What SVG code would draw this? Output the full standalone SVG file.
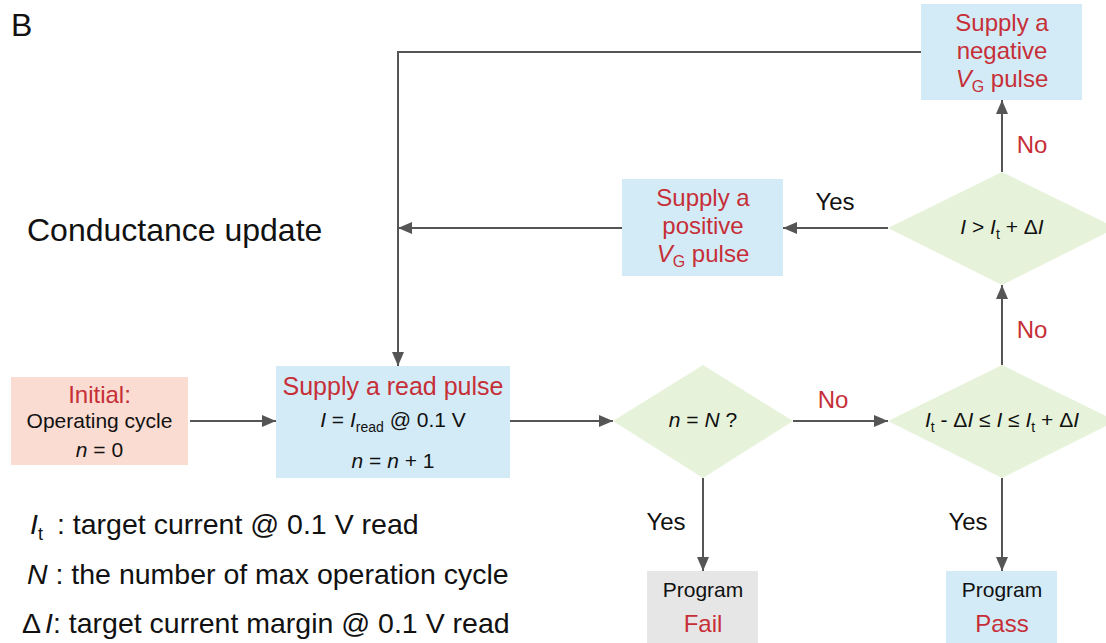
<svg xmlns="http://www.w3.org/2000/svg" width="1106" height="643" viewBox="0 0 1106 643">
<style>
text{font-family:"Liberation Sans",Arial,sans-serif;fill:#111}
.red{fill:#c62f37}
.t24{font-size:24px}
.t21{font-size:21px}
.c{text-anchor:middle}
.i{font-style:italic}
.blue{fill:#d3ebf7}
.green{fill:#e6f3da}
.conn path{fill:none;stroke:#555;stroke-width:2}
</style>
<defs>
<marker id="ah" markerUnits="userSpaceOnUse" markerWidth="14" markerHeight="12" refX="14" refY="6" orient="auto">
<path d="M0,0 L14,6 L0,12 z" fill="#555"/>
</marker>
</defs>
<rect width="1106" height="643" fill="#fff"/>
<text x="11" y="36" style="font-size:32px">B</text>
<text x="27" y="241" style="font-size:32px">Conductance update</text>

<g id="legend" style="font-size:28.5px">
<text x="30" y="534"><tspan class="i">I</tspan><tspan dy="6" style="font-size:18px">t</tspan><tspan x="57" dy="-6">: target current @ 0.1 V read</tspan></text>
<text x="27" y="584"><tspan class="i">N</tspan> : the number of max operation cycle</text>
<text x="22" y="633">Δ<tspan class="i" dx="4">I</tspan>: target current margin @ 0.1 V read</text>
</g>

<g class="conn">
<path d="M190 421 H276" marker-end="url(#ah)"/>
<path d="M510 421 H613" marker-end="url(#ah)"/>
<path d="M793 421 H888" marker-end="url(#ah)"/>
<path d="M1002 365 V285" marker-end="url(#ah)"/>
<path d="M1002 172 V100" marker-end="url(#ah)"/>
<path d="M888 228 H783" marker-end="url(#ah)"/>
<path d="M622 228 H398" marker-end="url(#ah)"/>
<path d="M921 52 H398 V366" marker-end="url(#ah)"/>
<path d="M703 478 V571" marker-end="url(#ah)"/>
<path d="M1002 478 V571" marker-end="url(#ah)"/>
<text class="t24 c red" x="833" y="408">No</text>
<text class="t24 c" x="835" y="210">Yes</text>
<text class="t24 c red" x="1032" y="153">No</text>
<text class="t24 c red" x="1032" y="338">No</text>
<text class="t24 c" x="666" y="530">Yes</text>
<text class="t24 c" x="968" y="530">Yes</text>
</g>

<g id="initial">
<rect x="11" y="377" width="177" height="88" fill="#fbdcd2"/>
<text class="t24 c red" x="99.5" y="403">Initial:</text>
<text class="t21 c" x="99.5" y="428">Operating cycle</text>
<text class="t21 c" x="99.5" y="457"><tspan class="i">n</tspan> = 0</text>
</g>

<g id="read">
<rect class="blue" x="276" y="366" width="234" height="112"/>
<text class="c red" style="font-size:25px" x="393" y="395">Supply a read pulse</text>
<text class="t21 c" x="393" y="427"><tspan class="i">I</tspan> = <tspan class="i">I</tspan><tspan dy="5" style="font-size:14px">read</tspan><tspan dy="-5"> @ 0.1 V</tspan></text>
<text class="t21 c" x="393" y="468"><tspan class="i">n</tspan> = <tspan class="i">n</tspan> + 1</text>
</g>

<g id="d1">
<polygon class="green" points="613,421 703,365 793,421 703,478"/>
<text class="t21 c" x="703" y="427"><tspan class="i">n</tspan> = <tspan class="i">N</tspan> ?</text>
</g>

<g id="d2">
<polygon class="green" points="888,421 1002,365 1116,421 1002,478"/>
<text class="t21 c" x="1002" y="427"><tspan class="i">I</tspan><tspan dy="5" style="font-size:14px">t</tspan><tspan dy="-5"> - Δ</tspan><tspan class="i">I</tspan> ≤ <tspan class="i">I</tspan> ≤ <tspan class="i">I</tspan><tspan dy="5" style="font-size:14px">t</tspan><tspan dy="-5"> + Δ</tspan><tspan class="i">I</tspan></text>
</g>

<g id="d3">
<polygon class="green" points="888,228 1002,172 1116,228 1002,285"/>
<text class="t21 c" x="1002" y="234"><tspan class="i">I</tspan> &gt; <tspan class="i">I</tspan><tspan dy="5" style="font-size:14px">t</tspan><tspan dy="-5"> + Δ</tspan><tspan class="i">I</tspan></text>
</g>

<g id="positive">
<rect class="blue" x="622" y="179" width="161" height="97"/>
<text class="t24 c red" x="703" y="206">Supply a</text>
<text class="t24 c red" x="703" y="234">positive</text>
<text class="t24 c red" x="703" y="262"><tspan class="i">V</tspan><tspan dy="5" style="font-size:16px">G</tspan><tspan dy="-5"> pulse</tspan></text>
</g>

<g id="negative">
<rect class="blue" x="921" y="4" width="161" height="96"/>
<text class="t24 c red" x="1002" y="31">Supply a</text>
<text class="t24 c red" x="1002" y="59">negative</text>
<text class="t24 c red" x="1002" y="87"><tspan class="i">V</tspan><tspan dy="5" style="font-size:16px">G</tspan><tspan dy="-5"> pulse</tspan></text>
</g>

<g id="fail">
<rect x="647" y="571" width="111" height="80" fill="#e6e6e6"/>
<text class="t21 c" x="703" y="597">Program</text>
<text class="t24 c red" x="703" y="632">Fail</text>
</g>

<g id="pass">
<rect class="blue" x="946" y="571" width="111" height="80"/>
<text class="t21 c" x="1002" y="597">Program</text>
<text class="t24 c red" x="1002" y="632">Pass</text>
</g>
</svg>
